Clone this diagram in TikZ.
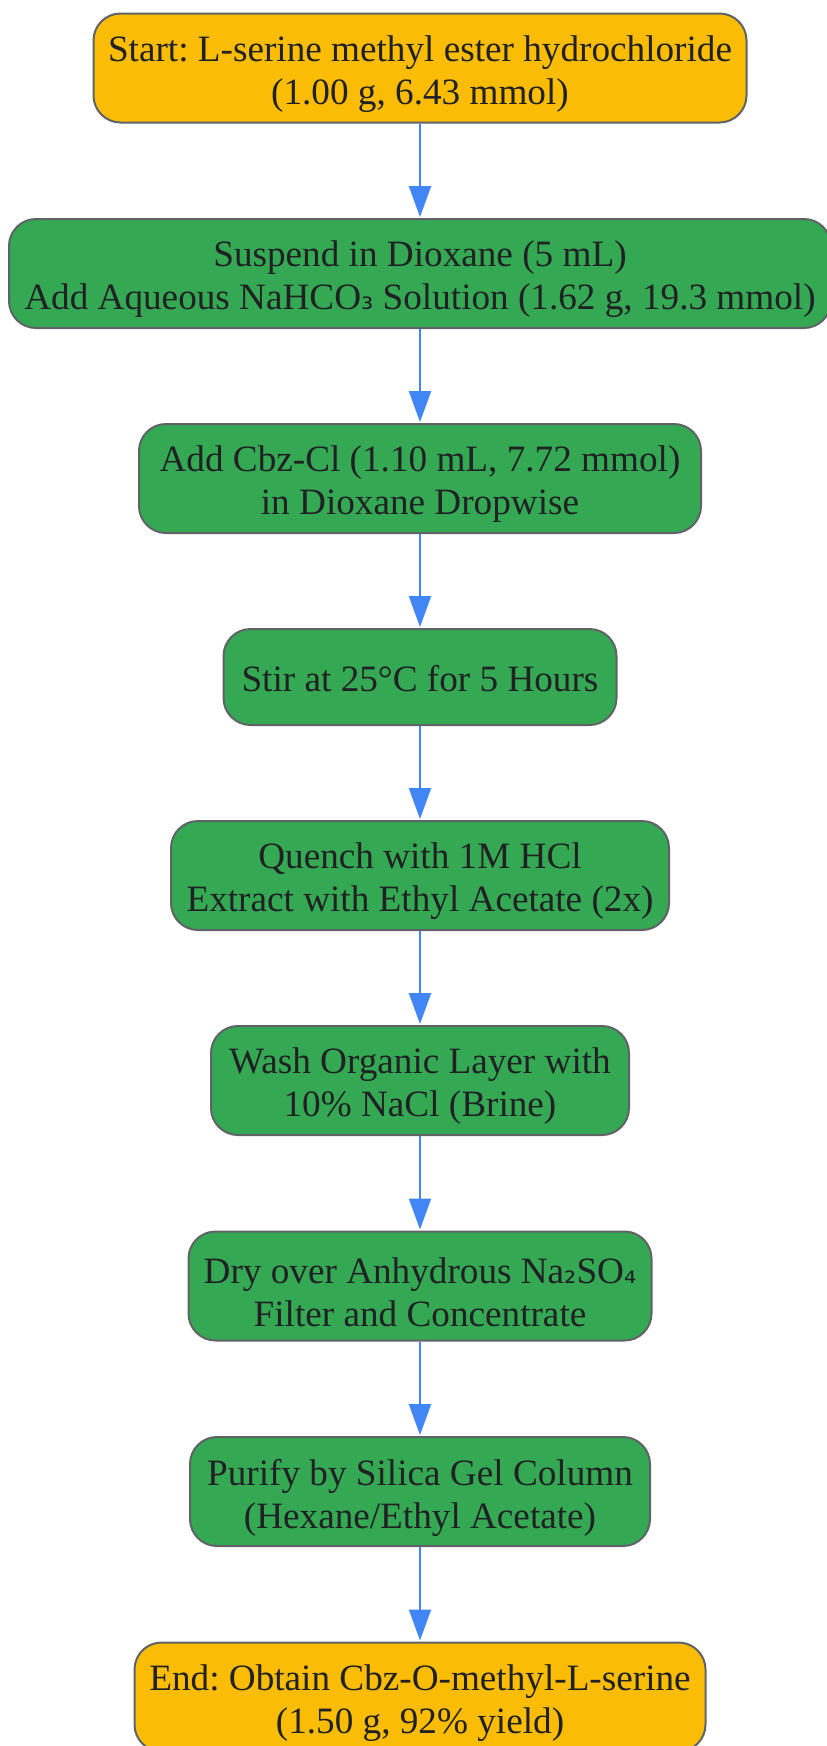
\documentclass[tikz,border=0pt]{standalone}
\usepackage{fontspec}
\setmainfont{Liberation Serif}
\newfontfamily\subfont{DejaVu Sans}
\usetikzlibrary{arrows.meta}
\frenchspacing
\definecolor{stepgreen}{HTML}{34A853}
\definecolor{endyellow}{HTML}{FBBC05}
\definecolor{edgegray}{HTML}{5F6368}
\definecolor{flowblue}{HTML}{4285F4}
\definecolor{txt}{HTML}{202124}
\newcommand{\sbs}[1]{{\subfont\fontsize{30.5pt}{43pt}\selectfont #1}}
\tikzset{
  box/.style={draw=edgegray, line width=2pt, rounded corners=27pt, inner sep=0pt, minimum height=109pt},
  greenbox/.style={box, fill=stepgreen},
  yellowbox/.style={box, fill=endyellow},
  boxtext/.style={align=center, text=txt, font=\frenchspacing\fontsize{37.2pt}{43pt}\selectfont, inner sep=0pt},
  flow/.style={draw=flowblue, line width=2pt, -{Triangle[length=31pt,width=22pt]}, shorten >=1pt}
}
\begin{document}
\begin{tikzpicture}[x=1pt,y=1pt]
\useasboundingbox (0,0) rectangle (827,-1746);
\node[yellowbox, minimum width=653pt] (n1) at (420,-68) {};
\node[boxtext] (t1) at ([yshift=-6pt]n1.center) {Start: L-serine methyl ester hydrochloride\\(1.00 g, 6.43 mmol)};
\node[greenbox, minimum width=822pt] (n2) at (420,-273.5) {};
\node[boxtext] (t2) at ([yshift=-6pt]n2.center) {Suspend in Dioxane (5 mL)\\Add Aqueous NaHCO\sbs{₃} Solution (1.62 g, 19.3 mmol)};
\node[greenbox, minimum width=562pt] (n3) at (420,-478.5) {};
\node[boxtext] (t3) at ([yshift=-6pt]n3.center) {Add Cbz-Cl (1.10 mL, 7.72 mmol)\\in Dioxane Dropwise};
\node[greenbox, minimum width=393pt, minimum height=96pt] (n4) at (420,-677) {};
\node[boxtext] (t4) at ([yshift=-1.5pt]n4.center) {Stir at 25°C for 5 Hours};
\node[greenbox, minimum width=498pt] (n5) at (420,-875.5) {};
\node[boxtext] (t5) at ([yshift=-6pt]n5.center) {Quench with 1M HCl\\Extract with Ethyl Acetate (2x)};
\node[greenbox, minimum width=418pt] (n6) at (420,-1080.5) {};
\node[boxtext] (t6) at ([yshift=-6pt]n6.center) {Wash Organic Layer with\\10\% NaCl (Brine)};
\node[greenbox, minimum width=463pt] (n7) at (420,-1286) {};
\node[boxtext] (t7) at ([yshift=-6pt]n7.center) {Dry over Anhydrous Na\sbs{₂}SO\sbs{₄}\\Filter and Concentrate};
\node[greenbox, minimum width=460pt] (n8) at (420,-1491.5) {};
\node[boxtext] (t8) at ([yshift=-6pt]n8.center) {Purify by Silica Gel Column\\(Hexane/Ethyl Acetate)};
\node[yellowbox, minimum width=571pt] (n9) at (420,-1697) {};
\node[boxtext] (t9) at ([yshift=-6pt]n9.center) {End: Obtain Cbz-O-methyl-L-serine\\(1.50 g, 92\% yield)};
\draw[flow] (n1) -- (n2);
\draw[flow] (n2) -- (n3);
\draw[flow] (n3) -- (n4);
\draw[flow] (n4) -- (n5);
\draw[flow] (n5) -- (n6);
\draw[flow] (n6) -- (n7);
\draw[flow] (n7) -- (n8);
\draw[flow] (n8) -- (n9);
\end{tikzpicture}
\end{document}
